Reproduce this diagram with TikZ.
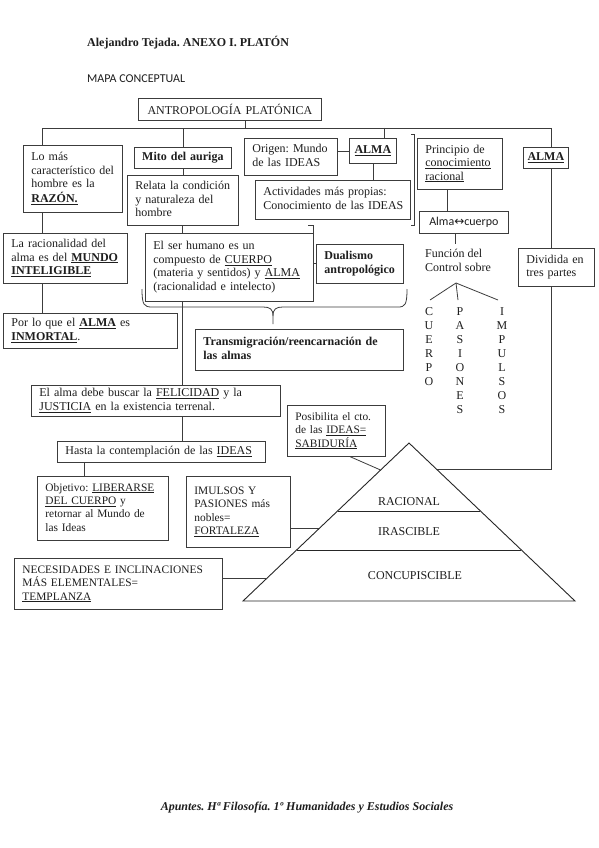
\documentclass[tikz,border=0pt]{standalone}
\usepackage{fontspec}
\setmainfont{Liberation Serif}
\newfontfamily\calfont{Carlito}
\newfontfamily\djfont{DejaVu Sans}
\usetikzlibrary{calc}
\frenchspacing
\definecolor{lc}{HTML}{3C3C3C}
\definecolor{tc}{HTML}{1E1E1E}
\newcommand\fs{\fontsize{12pt}{13.5pt}\selectfont}
\newcommand\fss{\fontsize{11.4pt}{13.3pt}\selectfont}
\tikzset{
  boxl/.style={draw=lc, line width=0.8pt, inner xsep=8pt, inner ysep=2pt, anchor=north west, align=left, text=tc, font=\fs},
  boxc/.style={draw=lc, line width=0.8pt, inner xsep=1pt, inner ysep=2pt, anchor=north west, align=center, text=tc, font=\fs},
  conn/.style={draw=lc, line width=0.8pt},
  letters/.style={anchor=north, inner sep=0pt, align=center, text=tc, font=\fontsize{12pt}{14pt}\selectfont},
  plain/.style={inner sep=0pt, text=tc, font=\fs},
  pyr/.style={draw=black!85, line width=0.9pt}
}
\newcommand\bx[7]{\node[#1, text width={#5-#3-16}, minimum height={#6-#4}] (#2) at (#3,#4) {\begin{tabular}{@{}l@{}}#7\end{tabular}};}
\newcommand\bc[6]{\node[boxc, text width={#4-#2-2}, minimum height={#5-#3}] (#1) at (#2,#3) {#6};}
\begin{document}
\begin{tikzpicture}[x=1pt,y=-1pt]
\useasboundingbox[fill=white] (0,0) rectangle (599,848);
% header
\node[plain, anchor=base west, font=\bfseries\fs] (hdr) at (87,47) {Alejandro Tejada. ANEXO I. PLATÓN};
\node[plain, anchor=base west, font=\calfont\fs] (mapa) at (87,83) {MAPA CONCEPTUAL};
\node[plain, anchor=base, font=\bfseries\itshape\fs] (foot) at (307,810) {Apuntes. Hª Filosofía. 1º Humanidades y Estudios Sociales};
% boxes
\bc{title}{138}{98}{321}{120}{ANTROPOLOGÍA PLATÓNICA}
\bx{boxl}{razon}{23}{145}{122}{212}{Lo más\\característico del\\hombre es la\\\underline{\textbf{RAZÓN.}}}
\bc{mito}{134}{147}{231}{168}{\textbf{Mito del auriga}}
\bx{boxl}{relata}{127}{175}{238}{225}{Relata la condición\\y naturaleza del\\hombre}
\bx{boxl}{origen}{244}{138}{337}{175}{Origen: Mundo\\de las IDEAS}
\bc{almaA}{349}{138}{396}{163}{\underline{\textbf{ALMA}}}
\bx{boxl}{activ}{255}{180}{410}{219}{Actividades más propias:\\Conocimiento de las IDEAS}
\bx{boxl}{principio}{417}{138}{502}{189}{Principio de\\\underline{conocimiento}\\\underline{racional}}
\bc{almacuerpo}{419}{211}{508}{233}{\calfont Alma{\djfont\fontsize{12pt}{12pt}\selectfont ↔}cuerpo}
\bc{almaB}{523}{147}{568}{168}{\underline{\textbf{ALMA}}}
\bx{boxl}{dividida}{518}{248}{594}{286}{Dividida en\\tres partes}
\bx{boxl}{racionalidad}{3}{233}{127}{283}{La racionalidad del\\alma es del \underline{\textbf{MUNDO}}\\\underline{\textbf{INTELIGIBLE}}}
\bx{boxl}{inmortal}{3}{313}{177}{348}{Por lo que el \underline{\textbf{ALMA}} es\\\underline{\textbf{INMORTAL}}.}
\bx{boxl}{serhumano}{145}{233}{313}{301}{El ser humano es un\\compuesto de \underline{CUERPO}\\(materia y sentidos) y \underline{ALMA}\\(racionalidad e intelecto)}
\bx{boxl}{dualismo}{316}{244}{403}{283}{\textbf{Dualismo}\\\textbf{antropológico}}
\bx{boxl}{transm}{195}{329}{403}{370}{\textbf{Transmigración/reencarnación de}\\\textbf{las almas}}
\bx{boxl}{felicidad}{31}{385}{280}{415}{El alma debe buscar la \underline{FELICIDAD} y la\\\underline{JUSTICIA} en la existencia terrenal.}
\bx{boxl}{hasta}{57}{441}{265}{462}{Hasta la contemplación de las \underline{IDEAS}}
\bx{boxl,font=\fss}{objetivo}{37}{476}{168}{540}{Objetivo: \underline{LIBERARSE}\\\underline{DEL CUERPO} y\\retornar al Mundo de\\las Ideas}
\bx{boxl,font=\fss}{fortaleza}{186}{476}{290}{547}{IMULSOS Y\\PASIONES más\\nobles=\\\underline{FORTALEZA}}
\bx{boxl,font=\fss}{templanza}{14}{558}{222}{609}{NECESIDADES E INCLINACIONES\\MÁS ELEMENTALES=\\\underline{TEMPLANZA}}
\bx{boxl,font=\fss}{posibilita}{287}{405}{385}{456}{Posibilita el cto.\\de las \underline{IDEAS=}\\\underline{SABIDURÍA}}
% free text
\node[plain, anchor=north west, align=left] (funcion) at (425,249) {Función del\\Control sobre};
\node[letters] (cuerpo) at (429,307) {C\\U\\E\\R\\P\\O};
\node[letters] (pasiones) at (460,307) {P\\A\\S\\I\\O\\N\\E\\S};
\node[letters] (impulsos) at (502,307) {I\\M\\P\\U\\L\\S\\O\\S};
% pyramid
\coordinate (apex) at (409,443);
\coordinate (pbl) at (243,601);
\coordinate (pbr) at (575,601);
\draw[pyr] (apex) -- (pbl) -- (pbr) -- cycle;
\draw[pyr, line width=0.7pt] ($(apex)!0.430!(pbl)$) -- ($(apex)!0.430!(pbr)$);
\draw[pyr, line width=0.7pt] ($(apex)!0.677!(pbl)$) -- ($(apex)!0.677!(pbr)$);
\node[plain] (racional) at (409,502) {RACIONAL};
\node[plain] (irascible) at (409,532) {IRASCIBLE};
\node[plain] (concup) at (415,576) {CONCUPISCIBLE};
\coordinate (pp) at ($(apex)!0.171!(pbl)$);
\coordinate (pf) at ($(apex)!0.538!(pbl)$);
\coordinate (pt) at ($(apex)!0.854!(pbl)$);
\coordinate (pr) at ($(apex)!0.1646!(pbr)$);
% bus coordinates
\coordinate (bL) at (42,128);
\coordinate (bR) at (551,128);
\coordinate (bT) at (245,128);
\coordinate (bA) at (384,128);
\coordinate (pX) at (447,200);
\coordinate (mX) at (182,300);
\coordinate (hX) at (84,470);
\coordinate (fk0) at (455,244);
\coordinate (fork) at (456,283);
\coordinate (brk) at (313,263);
% connectors
\draw[conn] (razon.north -| bL) -- (bL) -- (bR) -- (almaB.north -| bR);
\draw[conn] (title.south -| bT) -- (bT);
\draw[conn] (mito.north) -- (mito.north |- bL);
\draw[conn] (bA) -- (almaA.north -| bA);
\draw[conn] (mito.south) -- (mito.south |- relata.north);
\draw[conn] (almaA.west) -- (almaA.west -| origen.east);
\draw[conn] (almaA.south) -- (almaA.south |- activ.north);
\draw[conn] (principio.south -| pX) -- (almacuerpo.north -| pX);
\draw[conn] (almacuerpo.south -| fk0) -- (fk0);
\draw[conn] (fork) -- ($(cuerpo.north)+(1,-7)$);
\draw[conn] (fork) -- ($(pasiones.north)+(-2,-7)$);
\draw[conn] (fork) -- ($(impulsos.north)+(-4,-7)$);
\draw[conn] (almaB.south -| bR) -- (dividida.north -| bR);
\draw[conn] (dividida.south -| bR) |- (pr);
\draw[conn] (razon.south -| bL) -- (racionalidad.north -| bL);
\draw[conn] (racionalidad.south -| bL) -- (inmortal.north -| bL);
\draw[conn] (relata.south -| mX) -- (serhumano.north -| mX);
\draw[conn] (serhumano.south -| mX) -- (felicidad.north -| mX);
\draw[conn] (felicidad.south -| mX) -- (hasta.north -| mX);
\draw[conn] (hasta.south -| hX) -- (objetivo.north -| hX);
\draw[conn] ($(posibilita.south)+(14,0)$) -- (pp);
\draw[conn] (fortaleza.east |- pf) -- (pf);
\draw[conn] (templanza.east |- pt) -- (pt);
% brackets
\draw[conn] (308,225) -- (313,225) -- (313,301) -- (309,301);
\draw[conn] (brk) -- (dualismo.west |- brk);
\draw[conn] (411,134) -- (414,134) -- (414,225) -- (411,225);
% curly brace
\draw[conn] (142,289) .. controls (142,305) and (144,307) .. (152,307) -- (263,307) .. controls (270,307) and (273,309) .. (273,316) -- (273,324);
\draw[conn] (273,316) .. controls (273,309) and (276,307) .. (283,307) -- (398,307) .. controls (405,307) and (407,305) .. (407,289);
\end{tikzpicture}
\end{document}
